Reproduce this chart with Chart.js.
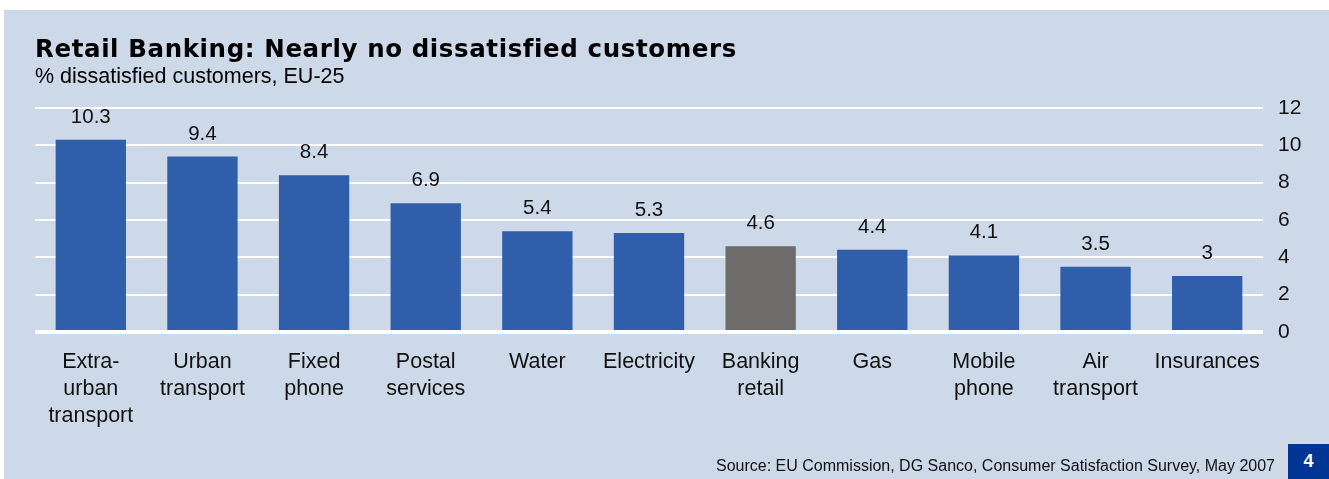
<!DOCTYPE html>
<html>
<head>
<meta charset="utf-8">
<title>Retail Banking: Nearly no dissatisfied customers</title>
<script src="https://cdn.jsdelivr.net/npm/chart.js@4"></script>
<style>
  html, body { margin: 0; padding: 0; background: #ffffff; }
  #frame { position: relative; width: 1329px; height: 479px; overflow: hidden; }
  #panel { position: absolute; left: 4px; top: 10px; width: 1325px; height: 469px; background: #CDD8E9; }
  #chart { position: absolute; left: 0; top: 0; }
  .txt { position: absolute; white-space: nowrap; line-height: 1; color: #000; }
  #title { left: 35px; top: 34.2px; font: bold 24.5px "DejaVu Sans", sans-serif; letter-spacing: 0.6px; }
  #subtitle { left: 35px; top: 64.1px; font: 21.5px "Liberation Sans", Arial, sans-serif; }
  #source { right: 54px; top: 456.5px; font: 16px "Liberation Sans", Arial, sans-serif; color: #111; }
  #page { position: absolute; left: 1288px; top: 444px; width: 41px; height: 35px; background: #003594;
          color: #fff; font: bold 18px "Liberation Sans", Arial, sans-serif; line-height: 35px; text-align: center; }
</style>
</head>
<body>
<div id="frame">
  <div id="panel"></div>
  <canvas id="chart" width="1329" height="479"></canvas>
  <div id="title" class="txt">Retail Banking: Nearly no dissatisfied customers</div>
  <div id="subtitle" class="txt">% dissatisfied customers, EU-25</div>
  <div id="source" class="txt">Source: EU Commission, DG Sanco, Consumer Satisfaction Survey, May 2007</div>
  <div id="page">4</div>
</div>
<script>
// Sectors, in the order shown (multi-line labels as arrays)
const sectors = [
  ["Extra-", "urban", "transport"],
  ["Urban", "transport"],
  ["Fixed", "phone"],
  ["Postal", "services"],
  ["Water"],
  ["Electricity"],
  ["Banking", "retail"],
  ["Gas"],
  ["Mobile", "phone"],
  ["Air", "transport"],
  ["Insurances"]
];

// Share of dissatisfied customers, %
const dissatisfied = [10.3, 9.4, 8.4, 6.9, 5.4, 5.3, 4.6, 4.4, 4.1, 3.5, 3];

// Sector highlighted in grey
const highlighted = "Banking retail";

// Right-hand axis ticks
const yTicks = [0, 2, 4, 6, 8, 10, 12];

const BLUE = "#305EAA";
const GREY = "#6E6C6A";
const FONT = '"Liberation Sans", Arial, Helvetica, sans-serif';

const barColors = sectors.map(s => s.join(" ") === highlighted ? GREY : BLUE);

// Value labels above each bar
const valueLabels = {
  id: "valueLabels",
  afterDatasetsDraw(chart) {
    const { ctx } = chart;
    const meta = chart.getDatasetMeta(0);
    ctx.save();
    ctx.font = "20.5px " + FONT;
    ctx.fillStyle = "#111";
    ctx.textAlign = "center";
    ctx.textBaseline = "alphabetic";
    meta.data.forEach((bar, i) => {
      ctx.fillText(String(dissatisfied[i]), bar.x, bar.y - 17);
    });
    ctx.restore();
  }
};

new Chart(document.getElementById("chart"), {
  type: "bar",
  data: {
    labels: sectors,
    datasets: [{
      data: dissatisfied,
      backgroundColor: barColors,
      borderWidth: 0,
      categoryPercentage: 1,
      barPercentage: 0.63
    }]
  },
  options: {
    responsive: false,
    animation: false,
    layout: { padding: { left: 35, top: 108, right: 0, bottom: 0 } },
    plugins: {
      legend: { display: false },
      tooltip: { enabled: false },
      title: { display: false }
    },
    scales: {
      x: {
        grid: { display: false, drawTicks: false },
        border: { display: false },
        ticks: {
          color: "#111",
          font: { family: FONT, size: 21.5, lineHeight: 1.256 },
          padding: 17,
          maxRotation: 0,
          autoSkip: false
        },
        afterFit(scale) { scale.height = 147; }
      },
      y: {
        position: "right",
        min: 0,
        max: 12,
        afterBuildTicks(scale) { scale.ticks = yTicks.map(v => ({ value: v })); },
        grid: {
          color: "#ffffff",
          lineWidth: ctx => (ctx.tick && ctx.tick.value === 0 ? 4 : 2),
          drawTicks: false
        },
        border: { display: false },
        ticks: {
          color: "#111",
          font: { family: FONT, size: 21 },
          padding: 15
        },
        afterFit(scale) { scale.width = 66; }
      }
    }
  },
  plugins: [valueLabels]
});
</script>
</body>
</html>
